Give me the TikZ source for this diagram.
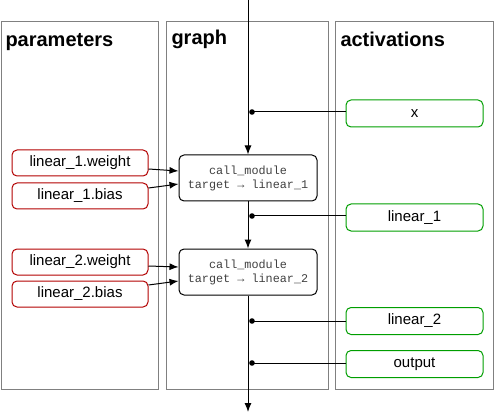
\documentclass[tikz,border=0pt]{standalone}
\usepackage{fontspec}
\setmainfont{Liberation Sans}
\setmonofont{Liberation Mono}
\usepackage{tikz}
\usetikzlibrary{positioning}
\usetikzlibrary{arrows.meta}

\definecolor{parred}{RGB}{178,0,0}
\definecolor{actgreen}{RGB}{0,158,0}
\definecolor{panelgray}{RGB}{128,128,128}

\begin{document}
\begin{tikzpicture}[x=1pt,y=-1pt,->,>={Latex[length=9pt,width=7pt]},line width=1pt,
	panel node/.style={draw=panelgray,-,minimum height=367pt,inner sep=0pt},
	title node/.style={anchor=base west,inner sep=0pt,font=\bfseries\fontsize{20}{22}\selectfont},
	param node/.style={draw=parred,rounded corners=5pt,minimum width=136pt,
		minimum height=26pt,inner sep=0pt,font=\fontsize{15}{16}\selectfont},
	act node/.style={draw=actgreen,rounded corners=5pt,minimum width=137pt,
		minimum height=27pt,inner sep=0pt,font=\fontsize{15}{16}\selectfont},
	call node/.style={draw,rounded corners=5pt,minimum width=138pt,minimum height=46pt,
		inner sep=0pt,align=center,text=black!75,
		font=\ttfamily\fontsize{11.8}{14}\selectfont}]
	
	\useasboundingbox (0,0) rectangle (494,419);
	
	% columns
	\node[panel node, minimum width=157pt] (params) at (79.5,205.5) {};
	\node[panel node, minimum width=162pt] (graph) at (247,205.5) {};
	\node[panel node, minimum width=158pt] (acts) at (414,205.5) {};
	
	\node[title node] (tparams) at (5,47) {parameters};
	\node[title node] (tgraph) at (171,45) {graph};
	\node[title node] (tacts) at (340,47) {activations};
	
	% parameters
	\node[param node] (w1) at (80,163) {linear\_1.weight};
	\node[param node] (b1) [below=6pt of w1] {linear\_1.bias};
	\node[param node] (w2) at (80,262) {linear\_2.weight};
	\node[param node] (b2) [below=5pt of w2] {linear\_2.bias};
	
	% graph
	\node[call node] (call1) at (248,178) {call\_module\\target → linear\_1};
	\node[call node] (call2) at (248,272) {call\_module\\target → linear\_2};
	\coordinate (in) at (248,0);
	\coordinate (out) at (248,412);
	
	% activations
	\node[act node] (x) at (414.5,113.5) {x};
	\node[act node] (l1) at (414.5,217.5) {linear\_1};
	\node[act node] (l2) at (414.5,321) {linear\_2};
	\node[act node] (o) at (414.5,364) {output};
	
	\draw (in) -- (call1);
	\draw (call1) -- (call2);
	\draw (call2) -- (out);
	
	\draw ([yshift=-6pt]w1.east) -- ([yshift=7pt]call1.west);
	\draw ([yshift=8pt]b1.east) -- ([yshift=-6pt]call1.west);
	\draw ([yshift=-4pt]w2.east) -- ([yshift=5pt]call2.west);
	\draw ([yshift=9pt]b2.east) -- ([yshift=-9pt]call2.west);
	
	% taps
	\foreach \tap/\act in {112/x,216/l1,321/l2,363/o}{
		\coordinate (tap-\act) at (252,\tap);
		\fill (tap-\act) circle (2.8pt);
		\draw[-] (tap-\act) -- (tap-\act -| \act.west);
	}
\end{tikzpicture}
\end{document}
